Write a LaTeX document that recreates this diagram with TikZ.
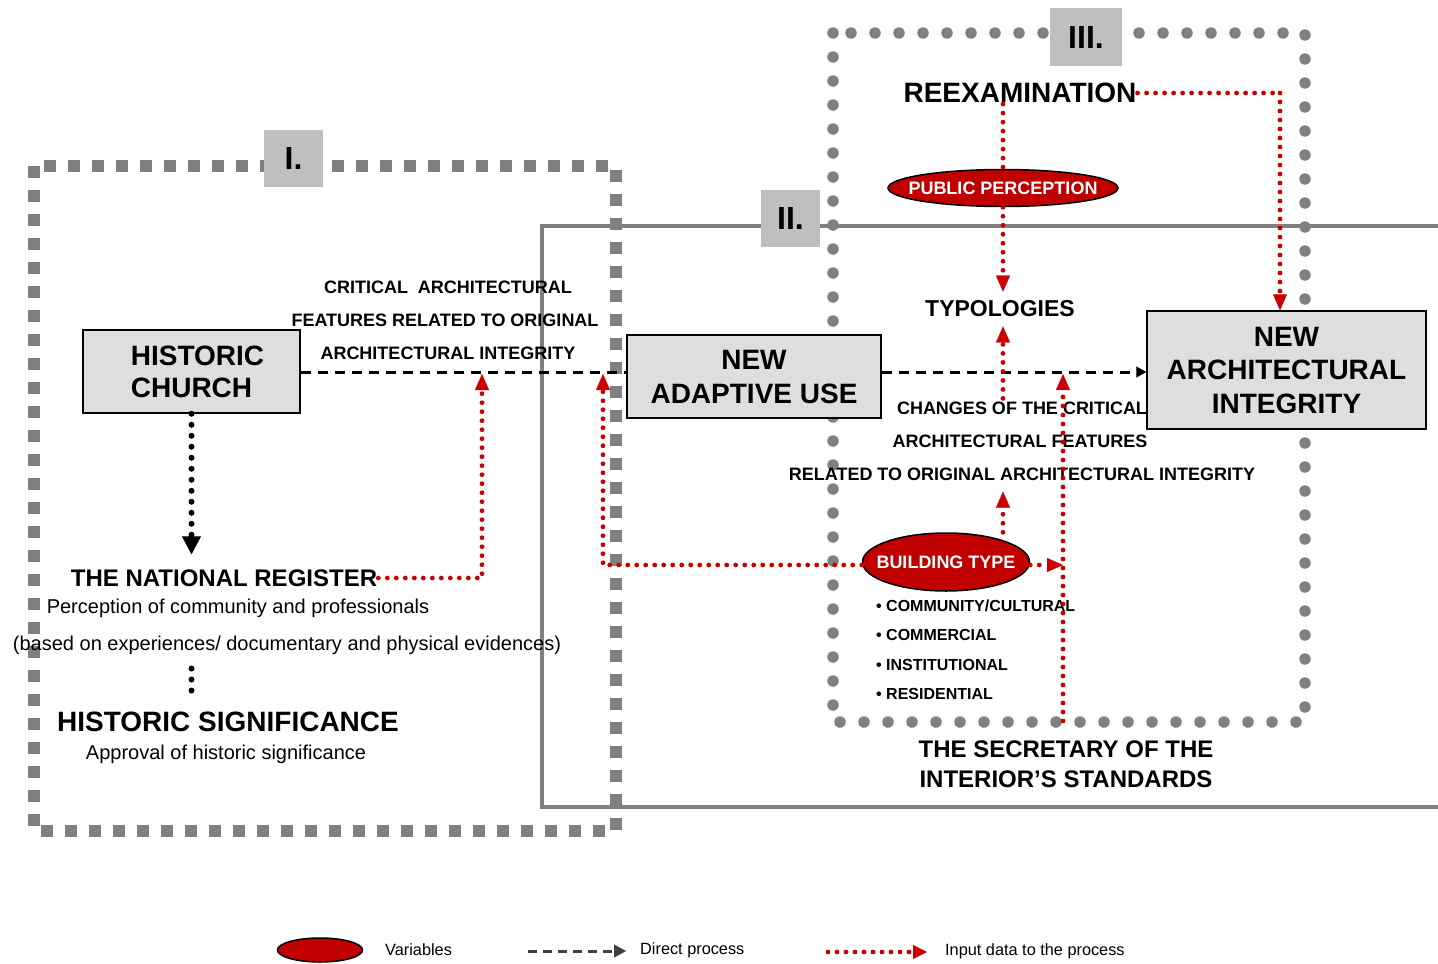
\documentclass[tikz,border=0pt]{standalone}
\usepackage{fontspec}
\setmainfont{Liberation Sans}
\usetikzlibrary{arrows.meta,shapes.geometric,calc}
\definecolor{vred}{HTML}{CC0000}
\definecolor{efill}{HTML}{C00000}
\definecolor{fgray}{HTML}{808080}
\definecolor{lgray}{HTML}{BFBFBF}
\definecolor{bfill}{HTML}{DEDEDE}
\definecolor{legray}{HTML}{404040}
\newcommand{\fsz}[2]{\fontsize{#1}{#2}\selectfont}
\begin{document}
\begin{tikzpicture}[x=1pt,y=-1pt,
  boxsty/.style={draw=black, line width=1.5pt, fill=bfill, inner sep=0pt, align=center},
  varsty/.style={ellipse, draw=black, line width=1.5pt, fill=efill, inner sep=0pt},
  vartext/.style={inner sep=0pt, text=white, font=\fsz{18}{20}\bfseries},
  flabel/.style={fill=lgray, inner sep=0pt, font=\fsz{32}{34}\bfseries},
  frameI/.style={draw=fgray, line width=12pt, dash pattern=on 12pt off 12pt},
  frameII/.style={draw=fgray, line width=4pt},
  frameIII/.style={draw=fgray, line width=11.5pt, line cap=round, dash pattern=on 0pt off 24pt},
  direct/.style={draw=black, line width=3pt, dash pattern=on 10pt off 7pt},
  dirtip/.style={-{Triangle[length=10pt,width=11pt,line width=0.1pt]}},
  inputd/.style={draw=vred, line width=4.8pt, line cap=round, dash pattern=on 0pt off 9pt},
  redtip/.style={-{Triangle[length=16pt,width=14pt,line width=0.1pt]}},
  blackdot/.style={draw=black, line width=6pt, line cap=round, dash pattern=on 0pt off 11pt},
  txt/.style={inner sep=1pt},
  lbl/.style={inner sep=1pt, font=\fsz{18}{20}\bfseries},
  bul/.style={inner sep=0pt, anchor=west, font=\fsz{16}{18}\bfseries},
  legt/.style={inner sep=1pt, anchor=west, font=\fsz{16.3}{18}}
]
\useasboundingbox (0,0) rectangle (1438,964);

% frames
\draw[frameI] (34,166) rectangle (616,831);
\draw[frameII] (1440,226) -- (542,226) -- (542,807) -- (1440,807);
\draw[frameIII] (833,33) rectangle (1305,722);

\node[flabel, minimum width=59pt, minimum height=57pt] (labI) at (293.5,158.5) {I.};
\node[flabel, minimum width=59pt, minimum height=57pt] (labII) at (790.5,218.5) {II.};
\node[flabel, minimum width=72pt, minimum height=58pt] (labIII) at (1086,37) {III.};

% main boxes
\node[boxsty, minimum width=217pt, minimum height=83pt,
      label={[inner sep=0pt, xshift=6pt, align=left, font=\fsz{28}{32}\bfseries, name=churcht]center:HISTORIC\\CHURCH}] (church) at (191.5,371.5) {};
\node[boxsty, minimum width=254pt, minimum height=83pt, font=\fsz{28}{34}\bfseries] (adapt) at (754,376.5) {NEW\\ADAPTIVE USE};
\node[boxsty, minimum width=279pt, minimum height=118pt, font=\fsz{28}{33.5}\bfseries] (integ) at (1286.5,370) {NEW\\ARCHITECTURAL\\INTEGRITY};

% texts
\node[txt, font=\fsz{28}{30}\bfseries] (reexam) at (1020,93) {REEXAMINATION};
\node[txt, font=\fsz{23}{25}\bfseries] (typo) at (1000,309) {TYPOLOGIES};
\node[varsty, minimum width=230pt, minimum height=37pt,
      label={[vartext, name=pubpert]center:PUBLIC PERCEPTION}] (pubper) at (1003,188) {};
\node[varsty, minimum width=167pt, minimum height=58pt,
      label={[vartext, name=buildt]center:BUILDING TYPE}] (build) at (946,562) {};

\node[lbl] (crit1) at (448,287) {CRITICAL~~ARCHITECTURAL};
\node[lbl] (crit2) at (445,320) {FEATURES RELATED TO ORIGINAL};
\node[lbl] (crit3) at (448,353) {ARCHITECTURAL INTEGRITY};

\node[lbl] (chg1) at (1022,408) {CHANGES OF THE CRITICAL};
\node[lbl] (chg2) at (1020,441) {ARCHITECTURAL FEATURES};
\node[lbl] (chg3) at (1022,474) {RELATED TO ORIGINAL ARCHITECTURAL INTEGRITY};

\node[bul] (b1) at (876,606) {\textbullet\ COMMUNITY/CULTURAL};
\node[bul] (b2) at (876,635) {\textbullet\ COMMERCIAL};
\node[bul] (b3) at (876,665) {\textbullet\ INSTITUTIONAL};
\node[bul] (b4) at (876,694) {\textbullet\ RESIDENTIAL};

\node[txt, font=\fsz{24}{30}\bfseries, align=center] (secr) at (1066,764) {THE SECRETARY OF THE\\INTERIOR’S STANDARDS};

\node[txt, font=\fsz{24}{26}\bfseries] (natreg) at (224,578) {THE NATIONAL REGISTER};
\node[txt, font=\fsz{20}{22}] (percep) at (238,608) {Perception of community and professionals};
\node[txt, font=\fsz{20}{22}] (based) at (287,645) {(based on experiences/ documentary and physical evidences)};
\node[txt, font=\fsz{28}{30}\bfseries] (histsig) at (228,722) {HISTORIC SIGNIFICANCE};
\node[txt, font=\fsz{20}{22}] (approv) at (226,754) {Approval of historic significance};

% coordinates for input arrows
\coordinate (a1) at (482,374);
\coordinate (a2) at (603,374);
\coordinate (a3) at (1063,374);
\coordinate (s3) at (1063,721);
\coordinate (r1) at (1280,93);

% direct process
\draw[direct] (church.east |- 0,372) -- (adapt.west |- 0,372);
\draw[direct, dirtip] (adapt.east |- 0,372) -- (integ.west |- 0,372);

% black dotted
\draw[blackdot, -{Triangle[length=18pt,width=19pt,line width=0.1pt]}] (church.south) -- ($(church.south |- natreg.north)+(0,-14)$);
\draw[blackdot] ($(church.south |- based.south)+(0,13)$) -- ($(church.south |- histsig.north)+(0,-10)$);

% input data
\draw[inputd, redtip] (natreg.east) -| (a1);
\draw[inputd, redtip] ($(build.west)+(0,3)$) -| (a2);
\draw[inputd, redtip] ($(build.east)+(0,3)$) -- ($(build.east -| a3)+(0,3)$);
\draw[inputd, redtip] (s3) -- (a3);
\draw[inputd] (reexam.east) -- (r1);
\draw[inputd, redtip] (r1) -- (r1 |- integ.north);
\draw[inputd] (reexam.south -| pubper.north) -- (pubper.north);
\draw[inputd, redtip] (pubper.south) -- ($(pubper.south |- typo.north)+(0,-8)$);
\draw[inputd, redtip] ($(pubper.south |- chg1.north)+(0,-2)$) -- ($(pubper.south |- typo.south)+(0,8)$);
\draw[inputd, redtip] (build.north -| pubper.south) -- ($(pubper.south |- chg3.south)+(0,10)$);

% legend
\node[varsty, minimum width=85pt, minimum height=24pt] (legvar) at (320,950) {};
\node[legt] (legvart) at (384,950) {Variables};
\coordinate (ld1) at (528,951);
\coordinate (ld2) at (626,951);
\draw[draw=legray, line width=3pt, dash pattern=on 9pt off 6pt, -{Triangle[length=12pt,width=13pt,line width=0.1pt]}] (ld1) -- (ld2);
\node[legt] (legdirt) at (639,950) {Direct process};
\coordinate (li1) at (828,952);
\coordinate (li2) at (927,952);
\draw[inputd, -{Triangle[length=14pt,width=14pt,line width=0.1pt]}] (li1) -- (li2);
\node[legt] (leginpt) at (944,951) {Input data to the process};
\end{tikzpicture}
\end{document}
